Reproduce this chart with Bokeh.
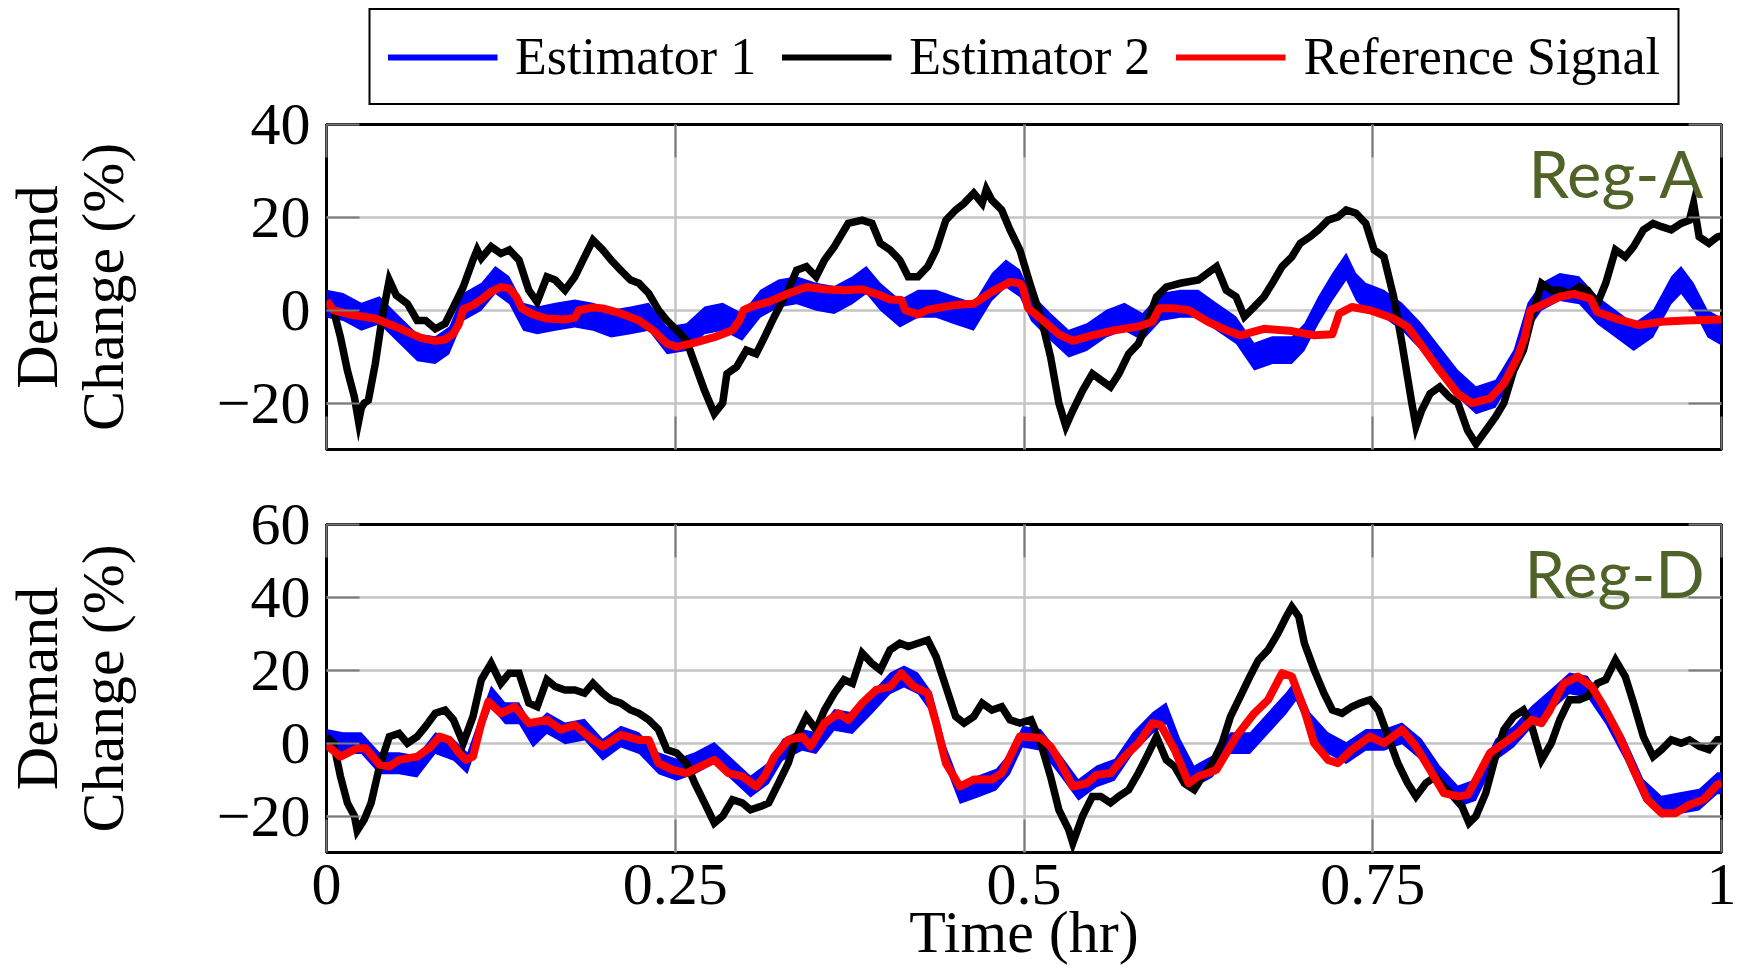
from bokeh.plotting import figure
from bokeh.layouts import column
from bokeh.models import (Legend, LegendItem, FixedTicker, Label, LinearAxis, Range1d)
from bokeh.embed import file_html
from bokeh.resources import INLINE

# ---------------- data ----------------
series_names = ["Estimator 1", "Estimator 2", "Reference Signal"]
x_ticks = [0, 0.25, 0.5, 0.75, 1]
x_tick_labels = {0: "0", 0.25: "0.25", 0.5: "0.5", 0.75: "0.75", 1: "1"}
a_yticks = [-20, 0, 20, 40]
d_yticks = [-20, 0, 20, 40, 60]
panel_names = ["Reg-A", "Reg-D"]

# Reg-A reference signal
a_ref_t = [0, 0.005, 0.018, 0.035, 0.05, 0.068, 0.078, 0.085, 0.091, 0.095, 0.098, 0.105, 0.111,
           0.118, 0.125, 0.131, 0.136, 0.14, 0.148, 0.158, 0.171, 0.178, 0.181, 0.191, 0.198, 0.211,
           0.224, 0.234, 0.244, 0.251, 0.264, 0.278, 0.291, 0.296, 0.299, 0.304, 0.317, 0.331, 0.344,
           0.357, 0.371, 0.384, 0.397, 0.404, 0.412, 0.415, 0.424, 0.431, 0.45, 0.464, 0.477, 0.49,
           0.497, 0.499, 0.503, 0.512, 0.525, 0.535, 0.549, 0.565, 0.582, 0.592, 0.597, 0.608, 0.618,
           0.632, 0.645, 0.655, 0.672, 0.692, 0.708, 0.721, 0.726, 0.735, 0.748, 0.765, 0.775, 0.784,
           0.798, 0.811, 0.821, 0.834, 0.844, 0.854, 0.859, 0.863, 0.871, 0.884, 0.894, 0.906, 0.911,
           0.924, 0.941, 0.957, 0.974, 1.0]
a_ref = [2, 0, -1, -1.8, -3.6, -6, -6.6, -6.3, -5, -2.9, 0.2, 1.1, 2.3,
         4, 5, 4.7, 2.9, 0.4, -0.9, -1.8, -2, -1.6, 0, 0.6, 0.4, -0.7,
         -2.2, -4.3, -7.2, -7.9, -7, -5.8, -4.3, -2.2, 0, 0.7, 1.8, 3.6, 5,
         4.5, 4.3, 4.5, 3.2, 2.3, 2.2, 0, -0.9, 0.1, 1.1, 1.4, 4, 6.1,
         5.8, 5, 0.4, -1.8, -5.2, -6.6, -5.4, -4.3, -3.5, -2.5, 0.4, 0.4, 0,
         -2.5, -4.3, -5.4, -4, -4.5, -5.4, -5.2, -0.7, 0.7, 0, -1.8, -3.6, -7.2,
         -13, -18, -20, -19, -15.8, -10, -5.8, 0, 1.1, 2.9, 3.5, 2.5, -0.4,
         -1.8, -3.2, -2.5, -2.2, -2]

# Reg-A estimator 2
a_e2_t = [0, 0.005, 0.01, 0.015, 0.02, 0.023, 0.025, 0.027, 0.03, 0.035, 0.04, 0.045, 0.05, 0.058,
          0.065, 0.071, 0.078, 0.085, 0.091, 0.098, 0.105, 0.108, 0.111, 0.118, 0.125, 0.131, 0.138,
          0.145, 0.151, 0.158, 0.164, 0.171, 0.178, 0.185, 0.191, 0.198, 0.204, 0.211, 0.218, 0.224,
          0.231, 0.238, 0.244, 0.251, 0.258, 0.264, 0.271, 0.278, 0.284, 0.287, 0.294, 0.301, 0.308,
          0.314, 0.321, 0.331, 0.337, 0.344, 0.351, 0.357, 0.364, 0.374, 0.384, 0.391, 0.397, 0.404,
          0.411, 0.417, 0.424, 0.431, 0.437, 0.444, 0.451, 0.457, 0.464, 0.47, 0.473, 0.477, 0.484,
          0.49, 0.497, 0.505, 0.512, 0.519, 0.525, 0.53, 0.535, 0.542, 0.549, 0.555, 0.562, 0.568,
          0.575, 0.582, 0.588, 0.595, 0.602, 0.612, 0.625, 0.638, 0.645, 0.652, 0.658, 0.665, 0.672,
          0.678, 0.685, 0.692, 0.698, 0.705, 0.711, 0.718, 0.725, 0.731, 0.738, 0.745, 0.751, 0.758,
          0.765, 0.771, 0.778, 0.781, 0.785, 0.791, 0.798, 0.805, 0.811, 0.818, 0.824, 0.831, 0.838,
          0.844, 0.851, 0.858, 0.864, 0.871, 0.878, 0.884, 0.891, 0.898, 0.904, 0.911, 0.917, 0.924,
          0.931, 0.937, 0.944, 0.951, 0.957, 0.964, 0.971, 0.977, 0.98, 0.984, 0.991, 0.997, 1.0]
a_e2 = [1.8, 0, -5.8, -13, -18.7, -24, -21, -20, -19.4, -11.5, -1.4, 6.5, 3.2, 1.4,
        -2.2, -2.2, -4, -2.9, 0.7, 5, 10.8, 13, 11.2, 13.7, 12.2, 13, 10.8,
        4.3, 1.8, 7.2, 6.5, 4.3, 7.2, 11.5, 15.1, 13, 10.8, 8.6, 6.5, 5.8,
        3.6, 0, -2.2, -4.3, -6.5, -11.5, -17.3, -22.3, -20, -13.7, -12.2, -8.6, -9.4,
        -5.8, -1.4, 4.3, 8.6, 9.4, 7.2, 10.8, 13.7, 18.7, 19.4, 18.7, 14.4, 13,
        10.8, 7.2, 7.2, 9.4, 13, 19.4, 21.6, 23, 25.2, 23, 26, 23.7, 21.6,
        17.3, 13, 5, -1.4, -10, -20, -25, -21.6, -17.3, -13.7, -15, -16.5, -13.7,
        -9.4, -7.2, -2.9, 2.9, 5, 5.8, 6.5, 9.4, 4.3, 2.9, -1.4, 0.7, 2.9,
        5.8, 9.4, 11.5, 14.4, 15.8, 17.3, 19.4, 20.1, 21.6, 20.9, 18.7, 13, 11.5,
        2.9, -7.2, -20, -25, -21.6, -18, -16.5, -18.7, -20, -25.9, -28.8, -25.9, -23,
        -20, -13, -8.6, -1.4, 5.8, 4.3, 4.3, 3.6, 5, 4.3, 1.4, 5.8, 13,
        11.5, 13.7, 17.3, 18.7, 18, 17.3, 18.7, 19.4, 23, 15.8, 14.4, 15.8, 16]

# Reg-A estimator 1
a_e1_t = [0, 0.012, 0.025, 0.038, 0.05, 0.065, 0.078, 0.088, 0.098, 0.111, 0.121, 0.131, 0.141,
          0.151, 0.164, 0.178, 0.191, 0.204, 0.218, 0.231, 0.244, 0.258, 0.271, 0.284, 0.298, 0.311,
          0.324, 0.337, 0.351, 0.364, 0.377, 0.387, 0.397, 0.411, 0.424, 0.437, 0.45, 0.464, 0.477,
          0.487, 0.497, 0.505, 0.519, 0.532, 0.545, 0.559, 0.572, 0.585, 0.598, 0.612, 0.625, 0.638,
          0.652, 0.665, 0.678, 0.692, 0.701, 0.711, 0.721, 0.731, 0.738, 0.745, 0.758, 0.771, 0.785,
          0.798, 0.811, 0.824, 0.838, 0.851, 0.861, 0.871, 0.884, 0.898, 0.911, 0.924, 0.937, 0.951,
          0.964, 0.971, 0.98, 0.99, 1.0]
a_e1 = [1.4, 0.7, -1.4, 0, -3.6, -8, -8.6, -6.5, 0.7, 2.9, 6.5, 4.3, -1.4,
        -2.2, -1.4, -0.7, -1.4, -2.9, -2.2, -1.4, -6.5, -5.8, -2.2, -1.4, -3.6, 1.4,
        3.6, 4.3, 2.9, 2.2, 4.3, 6.5, 2.9, -0.7, 1.4, 1.4, 0, -1.4, 5,
        7.9, 5.8, 0.7, -3.6, -7.2, -5.8, -2.9, -1.4, -3.6, 0.7, 1.4, 1.4, -1.4,
        -4.3, -10, -8.6, -8.6, -5.8, 0, 5, 9.4, 5, 2.9, 1.4, -1.4, -5.8,
        -10.8, -15.8, -19.4, -18, -11.5, -1.4, 2.9, 5, 4.3, 0, -2.9, -5.8, -2.9,
        4.3, 6.5, 2.9, -2.9, -4.6]

# Reg-D reference signal
d_ref_t = [0, 0.01, 0.022, 0.028, 0.038, 0.045, 0.052, 0.065, 0.075, 0.081, 0.088, 0.095, 0.1,
           0.105, 0.111, 0.116, 0.125, 0.135, 0.145, 0.158, 0.168, 0.178, 0.188, 0.198, 0.211, 0.224,
           0.231, 0.238, 0.248, 0.258, 0.268, 0.278, 0.288, 0.298, 0.308, 0.314, 0.321, 0.331, 0.341,
           0.347, 0.357, 0.367, 0.374, 0.384, 0.394, 0.404, 0.412, 0.421, 0.431, 0.437, 0.444, 0.454,
           0.464, 0.477, 0.484, 0.49, 0.497, 0.512, 0.519, 0.525, 0.535, 0.545, 0.552, 0.562, 0.572,
           0.582, 0.592, 0.598, 0.608, 0.618, 0.625, 0.632, 0.638, 0.652, 0.665, 0.675, 0.685, 0.692,
           0.701, 0.708, 0.718, 0.725, 0.735, 0.748, 0.758, 0.771, 0.781, 0.791, 0.801, 0.811, 0.818,
           0.824, 0.834, 0.844, 0.854, 0.864, 0.871, 0.877, 0.887, 0.897, 0.907, 0.917, 0.927, 0.937,
           0.947, 0.957, 0.967, 0.977, 0.987, 0.997, 1.0]
d_ref = [-0.5, -3.7, -1.4, -1.4, -5.9, -6.4, -4.6, -3.7, -0.9, 1.8, 0.9, -2.7, -4.6,
         -3.7, 5.5, 11.4, 8.2, 10, 5.5, 6.4, 3.7, 5, 1.8, -0.9, 2.3, 0.9,
         0.9, -5.5, -7.3, -8.2, -6.4, -4.6, -8.2, -9.1, -11.9, -9.1, -3.7, 0.9, 1.8,
         -0.9, 5.5, 8.2, 6.4, 11, 14.6, 15.5, 19.2, 15.5, 13.7, 5.5, -5.5, -11.9,
         -10, -10, -8.2, -3.7, 1.8, 1.4, -0.9, -4.6, -11.9, -11, -8.7, -8.2, -3.7,
         0, 5.5, 5, -1.8, -11, -9.1, -8.2, -7.3, 1.8, 8.2, 11.9, 19.2, 18.3,
         9.1, 0, -4.6, -5.5, -1.8, 1.8, 0, 3.7, -0.9, -7.3, -13.7, -14.6, -14.2,
         -10, -2.7, 0, 2.7, 6.4, 5.5, 9.1, 16.4, 18.3, 15.5, 9.1, 1.8, -7.3,
         -15.5, -19.2, -19.2, -16.9, -15.5, -11.4, -11]

# Reg-D estimator 2
d_e2_t = [0, 0.005, 0.01, 0.015, 0.02, 0.022, 0.027, 0.032, 0.038, 0.045, 0.052, 0.058, 0.065,
          0.071, 0.078, 0.085, 0.091, 0.098, 0.105, 0.111, 0.118, 0.125, 0.131, 0.138, 0.145, 0.151,
          0.158, 0.164, 0.171, 0.178, 0.185, 0.191, 0.198, 0.204, 0.211, 0.218, 0.224, 0.231, 0.238,
          0.244, 0.251, 0.258, 0.264, 0.271, 0.278, 0.284, 0.291, 0.298, 0.304, 0.311, 0.317, 0.324,
          0.331, 0.337, 0.344, 0.351, 0.357, 0.364, 0.371, 0.377, 0.384, 0.391, 0.397, 0.404, 0.411,
          0.417, 0.424, 0.431, 0.437, 0.444, 0.451, 0.457, 0.464, 0.47, 0.477, 0.484, 0.49, 0.497,
          0.505, 0.512, 0.519, 0.525, 0.532, 0.535, 0.542, 0.549, 0.555, 0.562, 0.568, 0.575, 0.582,
          0.588, 0.595, 0.602, 0.608, 0.615, 0.622, 0.628, 0.635, 0.642, 0.648, 0.655, 0.662, 0.668,
          0.675, 0.682, 0.688, 0.692, 0.697, 0.701, 0.708, 0.715, 0.721, 0.728, 0.735, 0.741, 0.748,
          0.754, 0.761, 0.768, 0.775, 0.781, 0.788, 0.795, 0.801, 0.808, 0.814, 0.819, 0.824, 0.831,
          0.838, 0.844, 0.851, 0.858, 0.864, 0.871, 0.878, 0.884, 0.891, 0.898, 0.904, 0.911, 0.917,
          0.924, 0.931, 0.937, 0.944, 0.951, 0.957, 0.964, 0.971, 0.977, 0.984, 0.991, 0.997, 1.0]
d_e2 = [1.8, 0, -9.1, -16.4, -20, -24, -21, -16.4, -6.4, 1.8, 2.7, 0, 1.8,
        4.6, 8.2, 9.1, 6.4, 0, 7.3, 17.4, 21.9, 16.4, 19.2, 19.2, 11, 10,
        17.4, 15.5, 14.6, 14.6, 13.7, 16.4, 13.7, 11.9, 11, 9.1, 8.2, 6.4, 3.7,
        -1.8, -2.7, -5.5, -11, -16.4, -21.9, -20, -15.5, -16.4, -18.3, -17.4, -16.4, -11,
        -5.5, 1.8, 7.3, 3.7, 9.1, 13.7, 17.4, 16.4, 24.7, 21.9, 20.1, 25.6, 27.4,
        26.5, 27.4, 28.3, 23.7, 15.5, 7.3, 5.5, 7.3, 11, 9.1, 10, 6.4, 5.5,
        6.4, 0, -9.1, -18.3, -23.7, -27.4, -20, -14.6, -14.6, -16.4, -14.6, -12.8, -8.2,
        -3.7, 1.8, -4.6, -6.4, -11, -12.8, -9.1, -5.5, 0, 7.3, 12.8, 18.3, 22.8,
        25.6, 30.1, 34.7, 37.4, 34.7, 27.4, 20.1, 13.7, 9.1, 8.2, 10, 11, 11.9,
        9.1, 1.8, -5.5, -11, -14.6, -11, -9.1, -11.9, -14.6, -17.4, -21.9, -20, -13.7,
        -3.7, 3.7, 7.3, 9.1, 4.6, -4.6, 0, 6.4, 11.9, 11.9, 12.8, 16.4, 17.4,
        22.8, 18.3, 11, 1.8, -3.7, -1.8, 0.9, 0, 0.9, -0.9, -1.8, 0.9, 1]

# Reg-D estimator 1
d_e1_t = [0, 0.012, 0.025, 0.038, 0.052, 0.065, 0.078, 0.091, 0.101, 0.111, 0.118, 0.128, 0.138,
          0.148, 0.158, 0.171, 0.185, 0.198, 0.211, 0.224, 0.238, 0.251, 0.264, 0.278, 0.291, 0.304,
          0.317, 0.327, 0.341, 0.351, 0.364, 0.377, 0.391, 0.404, 0.414, 0.424, 0.434, 0.444, 0.454,
          0.467, 0.48, 0.49, 0.499, 0.512, 0.525, 0.539, 0.552, 0.565, 0.578, 0.592, 0.602, 0.612,
          0.622, 0.635, 0.648, 0.662, 0.675, 0.688, 0.695, 0.705, 0.718, 0.731, 0.745, 0.758, 0.771,
          0.785, 0.798, 0.811, 0.824, 0.838, 0.851, 0.864, 0.878, 0.891, 0.904, 0.917, 0.931, 0.944,
          0.957, 0.971, 0.984, 0.997, 1.0]
d_e1 = [0.9, 0, 0, -5.5, -5.5, -6.4, 0, -1.8, -5.5, 5.5, 12.8, 8.2, 8.2,
        1.8, 5.5, 2.7, 3.7, -1.8, 1.8, 0, -5.5, -7.3, -5.5, -2.7, -7.3, -11.9,
        -8.2, -1.8, 0.9, 0, 6.4, 5.5, 11, 16.4, 18.3, 16.4, 11, -3.7, -13.7,
        -11.9, -10, -5.5, 1.8, 0.9, -5.5, -12.8, -9.1, -7.3, 0, 5.5, 8.2, -1.8,
        -9.1, -6.4, 0, 0, 5.5, 11, 14.6, 5.5, 0, -2.7, 0.9, 0.9, 2.7,
        -1.8, -9.1, -14.6, -12.8, -1.8, 1.8, 7.3, 11.9, 16.4, 15.5, 8.2, -1.8, -12.8,
        -17.4, -16.4, -15.5, -11, -11]

# ---------------- style ----------------
SERIF = "Liberation Serif"
BLUE, BLACK, RED = "#0000ff", "#000000", "#ff0000"
OLIVE = "#4f6228"
GRID = "#c4c4c4"
TICK = "#7a7a7a"
BAND = 3.0
W = 1736
FRAME_LEFT = 321
FRAME_RIGHT = 1721


def style_axis(ax, ticks, labels=None, show_labels=True):
    ax.ticker = FixedTicker(ticks=ticks)
    ax.major_tick_in = 33
    ax.major_tick_out = 0
    ax.major_tick_line_color = TICK
    ax.major_tick_line_width = 2
    ax.minor_tick_line_color = None
    ax.axis_line_color = None
    ax.major_label_text_font = SERIF
    ax.major_label_text_color = "black"
    ax.major_label_text_font_size = "60px"
    if show_labels:
        if labels:
            ax.major_label_overrides = labels
    else:
        ax.major_label_overrides = {t: "" for t in ticks}
        ax.major_label_standoff = 0


def make_fig(height, ymin, ymax, yticks, btop, bbot):
    p = figure(width=W, height=height, x_range=Range1d(0, 1), y_range=Range1d(ymin, ymax),
               output_backend="svg", toolbar_location=None,
               min_border_left=FRAME_LEFT, min_border_right=W - FRAME_RIGHT,
               min_border_top=btop, min_border_bottom=bbot,
               background_fill_color="white", border_fill_color="white")
    p.outline_line_color = "black"
    p.outline_line_width = 3
    p.xgrid.ticker = FixedTicker(ticks=x_ticks)
    p.ygrid.ticker = FixedTicker(ticks=yticks)
    for g in (p.xgrid, p.ygrid):
        g.grid_line_color = GRID
        g.grid_line_width = 2.5
    ylabels = {v: (str(v).replace("-", "\u2212")) for v in yticks}
    style_axis(p.yaxis[0], yticks, ylabels)
    p.yaxis.axis_label = "Demand\nChange (%)"
    p.yaxis.axis_label_text_font = SERIF
    p.yaxis.axis_label_text_color = "black"
    p.yaxis.axis_label_text_font_size = "60px"
    p.yaxis.axis_label_text_font_style = "normal"
    p.yaxis.axis_label_text_line_height = 1.0
    p.yaxis.axis_label_standoff = 78
    p.yaxis.major_label_standoff = 16
    r_ax = LinearAxis()
    style_axis(r_ax, yticks, show_labels=False)
    p.add_layout(r_ax, "right")
    return p


def draw(p, e1_t, e1, e2_t, e2, ref_t, ref):
    lo = [v - BAND for v in e1]
    hi = [v + BAND for v in e1]
    p.varea(x=e1_t, y1=lo, y2=hi, fill_color=BLUE)
    p.line(e1_t, e1, line_color=BLUE, line_width=3)
    p.line(e2_t, e2, line_color=BLACK, line_width=7.5, line_join="miter")
    p.line(ref_t, ref, line_color=RED, line_width=8, line_join="round")


# legend strip (the series are drawn off-range here; only their legend swatches show)
p0 = figure(width=W, height=105, x_range=Range1d(0, 1), y_range=Range1d(500, 501),
            output_backend="svg", toolbar_location=None, x_axis_type=None, y_axis_type=None,
            min_border_left=FRAME_LEFT, min_border_right=W - FRAME_RIGHT,
            min_border_top=0, min_border_bottom=0,
            background_fill_color="white", border_fill_color="white")
p0.outline_line_color = None
p0.grid.visible = False
leg_rs = [p0.line(a_e1_t, a_e1, line_color=BLUE, line_width=6),
          p0.line(a_e2_t, a_e2, line_color=BLACK, line_width=6),
          p0.line(a_ref_t, a_ref, line_color=RED, line_width=6)]
legend = Legend(items=[LegendItem(label=n, renderers=[r]) for n, r in zip(series_names, leg_rs)],
                location="top_center", orientation="horizontal",
                label_text_font=SERIF, label_text_font_size="52px", label_text_color="black",
                glyph_width=110, glyph_height=40, label_standoff=18, spacing=25, padding=17,
                border_line_color="black", border_line_width=2.5, border_line_alpha=1,
                background_fill_alpha=1, margin=8)
p0.add_layout(legend, "center")

# top figure (Reg-A); it is pulled up over the empty bottom of the legend strip
p1 = make_fig(400, -30, 40, a_yticks, 40, 35)
p1.border_fill_alpha = 0
p1.margin = (-21, 0, 0, 0)
style_axis(p1.xaxis[0], x_ticks, show_labels=False)
top_ax1 = LinearAxis()
style_axis(top_ax1, x_ticks, show_labels=False)
p1.add_layout(top_ax1, "above")
draw(p1, a_e1_t, a_e1, a_e2_t, a_e2, a_ref_t, a_ref)
p1.add_layout(Label(x=0.987, y=29.5, text=panel_names[0], text_align="right",
                    text_baseline="alphabetic", text_font="Lato", text_font_size="65px",
                    text_color=OLIVE))

# bottom figure (Reg-D)
p2 = make_fig(484, -30, 60, d_yticks, 40, 116)
style_axis(p2.xaxis[0], x_ticks, x_tick_labels)
p2.xaxis.major_label_standoff = 12
p2.xaxis.axis_label = "Time (hr)"
p2.xaxis.axis_label_text_font = SERIF
p2.xaxis.axis_label_text_color = "black"
p2.xaxis.axis_label_text_font_size = "60px"
p2.xaxis.axis_label_text_font_style = "normal"
p2.xaxis.axis_label_standoff = -8
top_ax2 = LinearAxis()
style_axis(top_ax2, x_ticks, show_labels=False)
p2.add_layout(top_ax2, "above")
draw(p2, d_e1_t, d_e1, d_e2_t, d_e2, d_ref_t, d_ref)
p2.add_layout(Label(x=0.988, y=46.7, text=panel_names[1], text_align="right",
                    text_baseline="alphabetic", text_font="Lato", text_font_size="65px",
                    text_color=OLIVE))

layout = column(p0, p1, p2, spacing=0)
open("out.html", "w").write(file_html(layout, INLINE))
